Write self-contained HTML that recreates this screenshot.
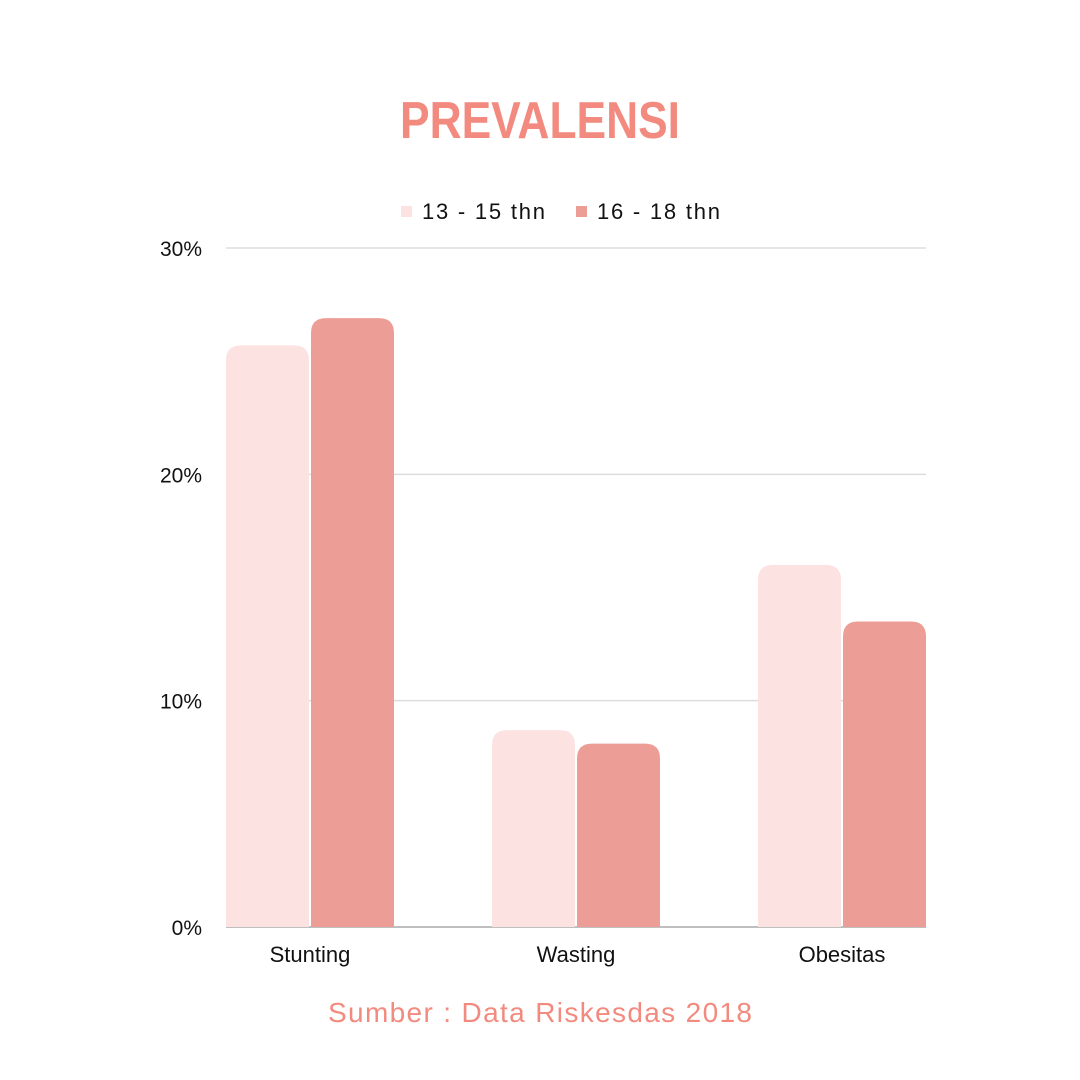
<!DOCTYPE html>
<html><head><meta charset="utf-8"><style>
html,body{margin:0;padding:0;background:#fff;}
svg{display:block;font-family:"Liberation Sans",sans-serif;}
</style></head><body>
<svg id="chart" width="1080" height="1080" viewBox="0 0 1080 1080">
<text x="400" y="138" font-size="52" font-weight="bold" fill="#f38a7f" textLength="280" lengthAdjust="spacingAndGlyphs">PREVALENSI</text>
<g>
<rect x="401" y="206" width="11" height="11" fill="#fde2e2"/>
<text x="422" y="219" font-size="22" fill="#111" textLength="123">13 - 15 thn</text>
<rect x="576" y="206" width="11" height="11" fill="#ec9d96"/>
<text x="597" y="219" font-size="22" fill="#111" textLength="123">16 - 18 thn</text>
</g>
<g id="grid"></g>
<g id="bars"></g>
<g id="xlabels"></g>
<text x="328" y="1022" font-size="28" fill="#f38a7f" textLength="424">Sumber : Data Riskesdas 2018</text>
</svg>
<script>
const categories = ["Stunting","Wasting","Obesitas"];
const series1 = [25.7, 8.7, 16.0];
const series2 = [26.9, 8.1, 13.5];
const yTicks = [0, 10, 20, 30];
const yTickLabels = ["0%","10%","20%","30%"];
const NS="http://www.w3.org/2000/svg";
const x0=226,x1=926,yB=927,yT=248,yMax=30;
const y=v=>yB-(v/yMax)*(yB-yT);
const barW=83,gap=2;
const step=(x1-x0-2*barW-gap)/(categories.length-1);
const grid=document.getElementById('grid');
yTicks.forEach((t,i)=>{
  const l=document.createElementNS(NS,'line');
  l.setAttribute('x1',x0);l.setAttribute('x2',x1);
  l.setAttribute('y1',y(t));l.setAttribute('y2',y(t));
  l.setAttribute('stroke',t===0?'#aaa':'#ddd');l.setAttribute('stroke-width','1.5');
  
  
  grid.appendChild(l);
  const tx=document.createElementNS(NS,'text');
  tx.setAttribute('x',202);tx.setAttribute('y',y(t)+8);
  tx.setAttribute('text-anchor','end');tx.setAttribute('font-size','21');tx.setAttribute('fill','#111');
  tx.textContent=yTickLabels[i];
  
  
  grid.appendChild(tx);
});
function bar(x,v,color){
  const top=y(v),h=yB-top,r=Math.min(15,h);
  const p=document.createElementNS(NS,'path');
  p.setAttribute('d',`M${x},${yB} L${x},${top+r} Q${x},${top} ${x+r},${top} L${x+barW-r},${top} Q${x+barW},${top} ${x+barW},${top+r} L${x+barW},${yB} Z`);
  p.setAttribute('fill',color);
  return p;
}
const bars=document.getElementById('bars'),xl=document.getElementById('xlabels');
categories.forEach((c,i)=>{
  const gx=x0+i*step;
  const b1=bar(gx,series1[i],'#fde2e2');
  
  
  bars.appendChild(b1);
  const b2=bar(gx+barW+gap,series2[i],'#ec9d96');
  
  
  bars.appendChild(b2);
  const t=document.createElementNS(NS,'text');
  t.setAttribute('x',gx+barW+gap/2);t.setAttribute('y',962);
  t.setAttribute('text-anchor','middle');t.setAttribute('font-size','22');t.setAttribute('fill','#111');
  t.textContent=c;
  
  
  xl.appendChild(t);
});
</script>
</body></html>
